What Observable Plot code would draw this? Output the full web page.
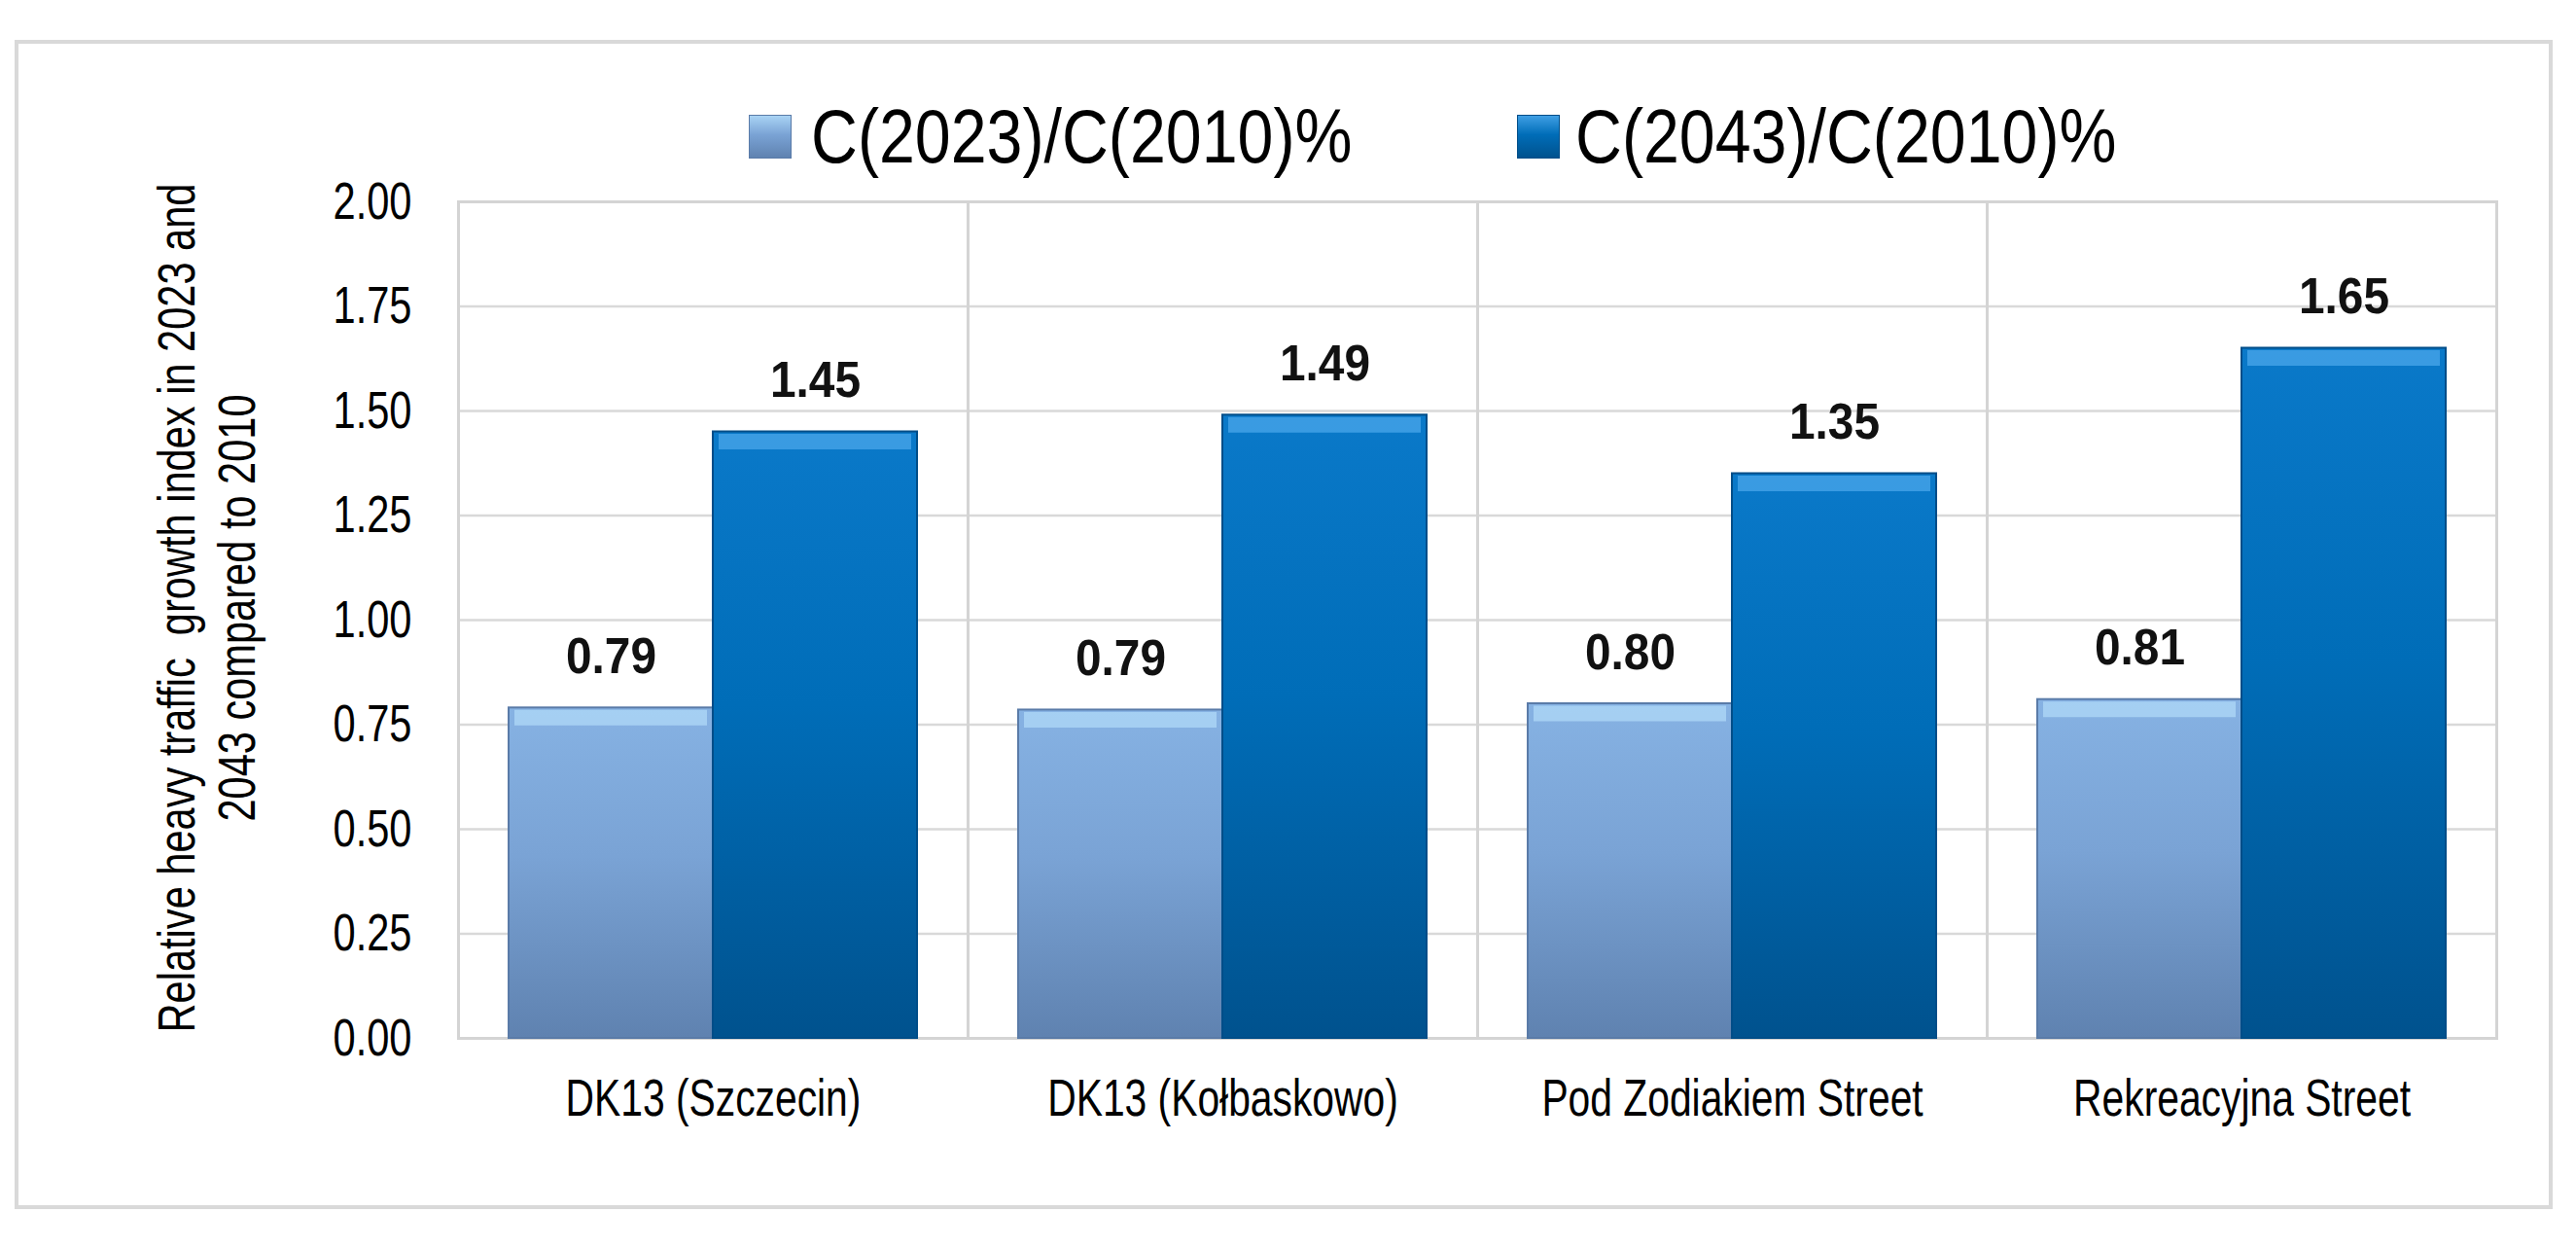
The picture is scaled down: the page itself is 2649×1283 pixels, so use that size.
<!DOCTYPE html>
<html>
<head>
<meta charset="utf-8">
<script src="https://cdn.jsdelivr.net/npm/d3@7"></script>
<script src="https://cdn.jsdelivr.net/npm/@observablehq/plot@0.6"></script>
<style>
  html, body { margin: 0; padding: 0; background: #fff; }
  body { width: 2649px; height: 1283px; position: relative; overflow: hidden;
         font-family: "Liberation Sans", Arial, sans-serif; color: #000; }
  #box { position: absolute; left: 15px; top: 41px; width: 2602px; height: 1194px; border: 4px solid #d9d9d9; box-sizing: content-box; }
  .sw { position: absolute; width: 44px; height: 45px; box-sizing: border-box; }
  .lt { position: absolute; font-size: 78px; line-height: 78px; white-space: nowrap; transform: scaleX(0.85); transform-origin: 0 50%; }
  #ylabel { position: absolute; left: 212px; top: 625px; transform: translate(-50%, -50%) rotate(-90deg) scaleX(0.77);
            white-space: pre; text-align: center; font-size: 54px; line-height: 62px; }
  #chart { position: absolute; left: 0; top: 140px; }
</style>
</head>
<body>
<div id="box"></div>
<div id="legend"></div>
<div id="ylabel"></div>
<div id="chart"></div>
<script>
// ---- data ----
const categories = ["DK13 (Szczecin)", "DK13 (Kołbaskowo)", "Pod Zodiakiem Street", "Rekreacyjna Street"];
const seriesNames = ["C(2023)/C(2010)%", "C(2043)/C(2010)%"];
const values2023 = [0.79, 0.785, 0.80, 0.81];
const values2043 = [1.45, 1.49, 1.35, 1.65];
const yTicks = [0, 0.25, 0.5, 0.75, 1.0, 1.25, 1.5, 1.75, 2.0];
const yTitleLines = ["Relative heavy traffic  growth index in 2023 and", "2043 compared to 2010"];

// ---- styles ----
const gradIds = ["gLight", "gDark"];
const gradStops = [
  [["0%", "#86b2e3"], ["45%", "#7aa3d5"], ["100%", "#5f82b0"]],
  [["0%", "#0a79c9"], ["45%", "#006db8"], ["100%", "#00528e"]]
];
const outline = ["#5a7ba8", "#004d88"];
const highlight = ["#a9d3f4", "#3f9fe4"];

const table = [];
categories.forEach((c, i) => {
  table.push({cat: c, series: seriesNames[0], value: values2023[i]});
  table.push({cat: c, series: seriesNames[1], value: values2043[i]});
});

const marks = [
  Plot.gridY(yTicks, {stroke: "#d9d9d9", strokeOpacity: 1, strokeWidth: 2.5}),
  Plot.frame({stroke: "#d4d4d4", strokeWidth: 3})
];
seriesNames.forEach((s, k) => {
  const sub = table.filter(d => d.series === s);
  marks.push(Plot.barY(sub, {fx: "cat", x: "series", y: "value", fill: `url(#${gradIds[k]})`, stroke: outline[k], strokeWidth: 2}));
  marks.push(Plot.tickY(sub, {fx: "cat", x: "series", y: "value", stroke: highlight[k], strokeWidth: 16, dy: 10, insetLeft: 6, insetRight: 6, strokeOpacity: 0.9}));
});
marks.push(
  Plot.text(table, {fx: "cat", x: "series", y: "value", text: d => d3.format(".2f")(d.value),
    lineAnchor: "bottom", dy: -36, fontSize: 52, fontWeight: "bold", fill: "#111"}),
  Plot.axisY({ticks: yTicks, tickFormat: ".2f", tickSize: 0, tickPadding: 48, label: null, fontSize: 54}),
  Plot.axisFx({anchor: "bottom", tickSize: 0, tickPadding: 42, label: null, fontSize: 53})
);

const chart = Plot.plot({
  width: 2649,
  height: 1140,
  marginTop: 67,
  marginBottom: 213,
  marginLeft: 470,
  marginRight: 82,
  style: {fontFamily: '"Liberation Sans", Arial, sans-serif', fontSize: "50px", color: "#000", background: "transparent"},
  fx: {domain: categories, padding: 0, label: null},
  x: {domain: seriesNames, paddingInner: 0, paddingOuter: 0.245, axis: null},
  y: {domain: [0, 2], label: null},
  marks
});

const svgEl = chart.tagName.toLowerCase() === "svg" ? chart : chart.querySelector("svg");
const svg = d3.select(svgEl);
const defs = svg.insert("defs", ":first-child");
gradIds.forEach((id, k) => {
  const g = defs.append("linearGradient").attr("id", id).attr("x1", 0).attr("y1", 0).attr("x2", 0).attr("y2", 1);
  gradStops[k].forEach(([o, c]) => g.append("stop").attr("offset", o).attr("stop-color", c));
});
document.getElementById("chart").appendChild(chart);

// condense text horizontally (narrow typeface look), keeping each label's anchor fixed
svg.selectAll("text").each(function() {
  const grp = this.closest("g[aria-label]");
  const isValue = grp && grp.getAttribute("aria-label") === "text";
  const s = isValue ? 0.92 : 0.77;
  const b = this.getBBox();
  const anchor = getComputedStyle(this).textAnchor;
  const ax = anchor === "end" ? b.x + b.width : anchor === "middle" ? b.x + b.width / 2 : b.x;
  const t0 = this.getAttribute("transform") || "";
  this.setAttribute("transform", `${t0} translate(${ax},0) scale(${s},1) translate(${-ax},0)`);
});

// legend
const legendPos = [{sw: 770, tx: 834}, {sw: 1560, tx: 1620}];
const legend = d3.select("#legend");
seriesNames.forEach((s, k) => {
  legend.append("div").attr("class", "sw")
    .style("left", legendPos[k].sw + "px").style("top", "118px")
    .style("background", `linear-gradient(to bottom, ${highlight[k]} 0%, ${gradStops[k][1][1]} 45%, ${gradStops[k][2][1]} 100%)`)
    .style("border", `1px solid ${outline[k]}`);
  legend.append("div").attr("class", "lt")
    .style("left", legendPos[k].tx + "px").style("top", "101px")
    .text(s);
});

// y title
d3.select("#ylabel").text(yTitleLines.join("\n"));
</script>
</body>
</html>
